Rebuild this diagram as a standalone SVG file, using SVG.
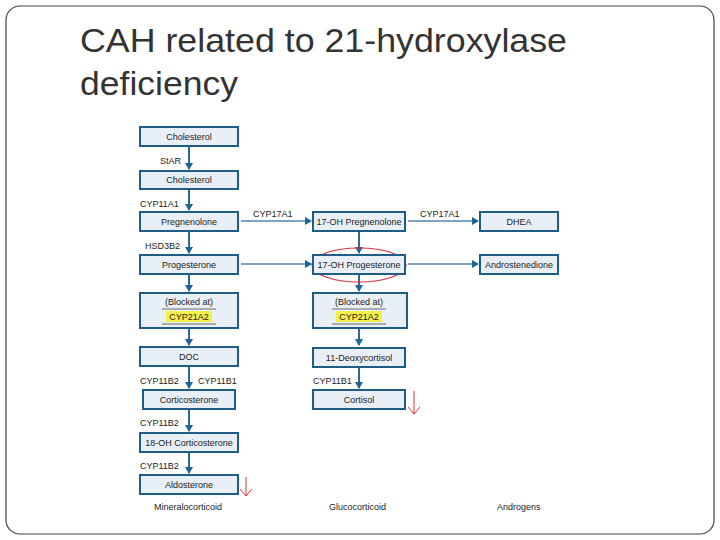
<svg xmlns="http://www.w3.org/2000/svg" width="720" height="540" viewBox="0 0 720 540">
<defs>
<marker id="ah" markerWidth="8" markerHeight="8" refX="6" refY="4" orient="auto" markerUnits="userSpaceOnUse"><path d="M0,0 L7,4 L0,8 Z" fill="#1f6497"/></marker>
<marker id="rh" markerWidth="12" markerHeight="12" refX="6" refY="11" orient="0" markerUnits="userSpaceOnUse"><path d="M0,4 L6,11 L12,4" fill="none" stroke="#e03030" stroke-width="1"/></marker>
</defs>
<style>
.b{fill:#e8eff6;stroke:#1f5c86;stroke-width:2}
.t{font-family:"Liberation Sans",Arial,sans-serif;font-size:9px;fill:#222;text-anchor:middle}
.l{font-family:"Liberation Sans",Arial,sans-serif;font-size:9px;fill:#222}
.c{stroke:#2a6a9a;stroke-width:2;fill:none;marker-end:url(#ah)}
.h{stroke:#4f86b0;stroke-width:1.5;fill:none;marker-end:url(#ah)}
.hl{fill:#f3f04a}
</style>
<rect x="6" y="6" width="708" height="528" rx="14" fill="#fff" stroke="#444" stroke-width="1.2"/>
<text x="80" y="52" font-family="Liberation Sans,Arial,sans-serif" font-size="33" textLength="487" lengthAdjust="spacingAndGlyphs" fill="#333">CAH related to 21-hydroxylase</text>
<text x="80" y="95" font-family="Liberation Sans,Arial,sans-serif" font-size="33" textLength="158" lengthAdjust="spacingAndGlyphs" fill="#333">deficiency</text>

<g id="connectors">
<path class="c" d="M189,147 V169"/>
<path class="c" d="M189,190 V210"/>
<path class="c" d="M189,232 V253"/>
<path class="c" d="M189,275 V291"/>
<path class="c" d="M189,329 V345"/>
<path class="c" d="M189,367 V388"/>
<path class="c" d="M189,410 V431"/>
<path class="c" d="M189,453 V473"/>
<path class="c" d="M359,232 V253"/>
<path class="c" d="M359,275 V291"/>
<path class="c" d="M359,329 V345"/>
<path class="c" d="M359,368 V388"/>
<path class="h" d="M241,221 H311"/>
<path class="h" d="M408,221 H478"/>
<path class="h" d="M241,264 H311"/>
<path class="h" d="M408,264 H478"/>
<line x1="246" y1="477" x2="246" y2="496" stroke="#e03030" stroke-width="1" marker-end="url(#rh)"/>
<line x1="414" y1="391" x2="414" y2="414" stroke="#e03030" stroke-width="1" marker-end="url(#rh)"/>
<ellipse cx="359" cy="265" rx="47" ry="17" fill="none" stroke="#d83040" stroke-width="1.2"/>
</g>

<g class="l">
<text x="160" y="164">StAR</text>
<text x="140" y="207">CYP11A1</text>
<text x="145" y="249">HSD3B2</text>
<text x="253" y="217">CYP17A1</text>
<text x="420" y="217">CYP17A1</text>
<text x="140" y="384">CYP11B2</text>
<text x="198" y="384">CYP11B1</text>
<text x="140" y="426">CYP11B2</text>
<text x="140" y="469">CYP11B2</text>
<text x="313" y="384">CYP11B1</text>
<text x="154" y="510">Mineralocorticoid</text>
<text x="329" y="510">Glucocorticoid</text>
<text x="497" y="510">Androgens</text>
</g>

<g id="n1"><rect class="b" x="140" y="127" width="98" height="19"/><text class="t" x="189" y="140">Cholesterol</text></g>
<g id="n2"><rect class="b" x="140" y="171" width="98" height="18"/><text class="t" x="189" y="183">Cholesterol</text></g>
<g id="n3"><rect class="b" x="140" y="212" width="98" height="19"/><text class="t" x="189" y="225">Pregnenolone</text></g>
<g id="n4"><rect class="b" x="140" y="255" width="98" height="19"/><text class="t" x="189" y="268">Progesterone</text></g>
<g id="n5"><rect class="b" x="140" y="293" width="98" height="35"/><text class="t" x="189" y="305">(Blocked at)</text><line x1="162" y1="309" x2="216" y2="309" stroke="#333" stroke-width="0.7"/><rect class="hl" x="166" y="311" width="46" height="11"/><text class="t" x="189" y="320">CYP21A2</text><line x1="162" y1="324" x2="216" y2="324" stroke="#333" stroke-width="0.7"/></g>
<g id="n6"><rect class="b" x="140" y="347" width="98" height="19"/><text class="t" x="189" y="360">DOC</text></g>
<g id="n7"><rect class="b" x="143" y="390" width="92" height="19"/><text class="t" x="189" y="403">Corticosterone</text></g>
<g id="n8"><rect class="b" x="140" y="433" width="98" height="19"/><text class="t" x="189" y="446">18-OH Corticosterone</text></g>
<g id="n9"><rect class="b" x="140" y="475" width="98" height="19"/><text class="t" x="189" y="488">Aldosterone</text></g>

<g id="m1"><rect class="b" x="313" y="212" width="92" height="19"/><text class="t" x="359" y="225">17-OH Pregnenolone</text></g>
<g id="m2"><rect class="b" x="313" y="255" width="92" height="19"/><text class="t" x="359" y="268">17-OH Progesterone</text></g>
<g id="m3"><rect class="b" x="313" y="293" width="94" height="35"/><text class="t" x="359" y="305">(Blocked at)</text><line x1="332" y1="309" x2="386" y2="309" stroke="#333" stroke-width="0.7"/><rect class="hl" x="336" y="311" width="46" height="11"/><text class="t" x="359" y="320">CYP21A2</text><line x1="332" y1="324" x2="386" y2="324" stroke="#333" stroke-width="0.7"/></g>
<g id="m4"><rect class="b" x="313" y="348" width="92" height="19"/><text class="t" x="359" y="361">11-Deoxycortisol</text></g>
<g id="m5"><rect class="b" x="313" y="390" width="92" height="19"/><text class="t" x="359" y="403">Cortisol</text></g>

<g id="r1"><rect class="b" x="480" y="212" width="78" height="19"/><text class="t" x="519" y="225">DHEA</text></g>
<g id="r2"><rect class="b" x="480" y="255" width="78" height="19"/><text class="t" x="519" y="268">Androstenedione</text></g>
</svg>
